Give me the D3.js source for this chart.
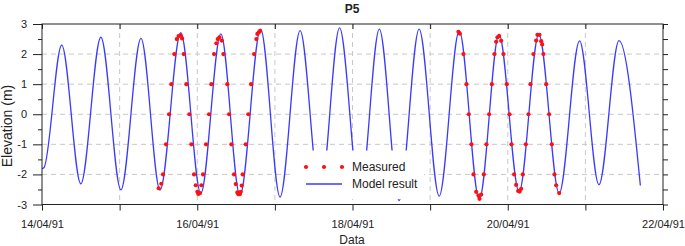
<!DOCTYPE html>
<html><head><meta charset="utf-8">
<script src="https://cdn.jsdelivr.net/npm/d3@7"></script>
<style>
html,body{margin:0;padding:0;background:#fff;}
svg{display:block;font-family:"Liberation Sans",Arial,sans-serif;}
</style></head>
<body>
<svg id="chart" width="685" height="246"></svg>
<script>
// ---------- data ----------
const chartTitle = "P5";
const xTitle = "Data";
const yTitle = "Elevation (m)";
const xTickDays = [0,1,2,3,4,5,6,7,8];            // days after 14/04/91
const xTickLabels = ["14/04/91","","16/04/91","","18/04/91","","20/04/91","","22/04/91"];
const yTickValues = [-3,-2,-1,0,1,2,3];
const yMinorValues = [-2.5,-1.5,-0.5,0.5,1.5,2.5];
const legendLabels = ["Measured","Model result"];

// model result: hours after 14/04/91 00:00, elevation (m) at turning points
const modelHours = [0,0.6,6.1,12.0,18.2,24.4,30.6,36.5,42.9,49.1,55.3,61.2,67.6,73.6,79.8,86.0,92.0,98.3,104.3,110.4,116.6,122.8,129.0,135.2,141.3,147.5,153.6,159.9,166.2,172.2,178.4,185.0];
const modelElev  = [-1.81,-1.78,2.30,-2.31,2.56,-2.51,2.52,-2.52,2.71,-2.63,2.67,-2.70,2.83,-2.75,2.78,-2.76,2.87,-2.78,2.83,-2.87,2.83,-2.72,2.77,-2.83,2.66,-2.58,2.66,-2.63,2.44,-2.34,2.45,-2.37];

// measured: hours after 14/04/91 00:00, elevation (m)
const measHours = [36.09,36.90,37.42,38.35,39.28,39.99,40.92,41.66,42.22,42.84,43.30,43.82,44.63,45.56,46.18,47.01,47.54,48.03,48.34,48.87,49.27,49.79,50.72,51.65,52.36,53.20,53.91,54.34,54.84,55.58,56.07,57.31,57.84,58.55,59.38,59.91,60.40,60.71,61.15,61.45,61.76,62.07,63.00,63.80,64.64,65.57,66.28,66.59,67.02,67.42,
  128.75,129.19,130.30,131.23,131.97,132.78,133.40,134.23,134.95,135.26,135.78,136.61,137.42,138.25,139.09,139.89,140.42,140.82,141.34,141.96,142.67,143.72,144.53,145.15,145.98,146.60,147.22,147.68,148.15,148.67,149.60,150.40,151.02,151.95,152.78,153.18,153.80,154.33,154.64,155.04,155.88,156.80,157.64,158.44,158.97,159.90];
const measElev  = [-2.46,-2.31,-2.0,-1.0,0,1.0,2.0,2.50,2.60,2.62,2.52,2.0,1.0,0,-1.0,-2.0,-2.36,-2.58,-2.65,-2.62,-2.36,-2.0,-1.0,0,1.0,2.0,2.36,2.50,2.56,2.45,2.0,1.0,0,-1.0,-2.0,-2.32,-2.60,-2.66,-2.66,-2.58,-2.37,-2.0,-1.0,0,1.0,2.0,2.50,2.67,2.72,2.77,
  2.74,2.68,2.0,1.0,0,-1.0,-2.0,-2.58,-2.70,-2.81,-2.67,-2.0,-1.0,0,1.0,2.0,2.41,2.56,2.60,2.44,2.0,1.0,0,-1.0,-2.0,-2.35,-2.55,-2.57,-2.48,-2.0,-1.0,0,1.0,2.0,2.45,2.64,2.64,2.43,2.32,2.0,1.0,0,-1.0,-2.0,-2.36,-2.62];

// ---------- layout ----------
const L = 42, R = 663, T = 24, B = 204.5;
const svg = d3.select("#chart");
const x = d3.scaleLinear().domain([0, 192]).range([L, R]);
const y = d3.scaleLinear().domain([-3, 3]).range([B, T]);

const lineColor = "#3a3aff";
const dotColor = "#ff1010";
const axisColor = "#222";

// grid
const g = svg.append("g");
g.selectAll(".hg").data(yTickValues.filter(v => v > -3 && v < 3)).join("line")
  .attr("x1", L).attr("x2", R).attr("y1", d => y(d)).attr("y2", d => y(d))
  .attr("stroke", "#c8c8c8").attr("stroke-width", 1).attr("stroke-dasharray", "5,4");
g.selectAll(".vg").data(xTickDays.filter(d => d > 0 && d < 8)).join("line")
  .attr("x1", d => x(d*24)).attr("x2", d => x(d*24)).attr("y1", T).attr("y2", B)
  .attr("stroke", "#c8c8c8").attr("stroke-width", 1).attr("stroke-dasharray", "5,4");

// model line
const model = modelHours.map((h, i) => ({h, v: modelElev[i]}));
svg.append("path").datum(model)
  .attr("fill", "none").attr("stroke", lineColor).attr("stroke-width", 1.3)
  .attr("d", d3.line().x(d => x(d.h)).y(d => y(d.v)).curve(d3.curveMonotoneX));

// measured dots
const meas = measHours.map((h, i) => ({h, v: measElev[i]}));
svg.append("g").selectAll("circle").data(meas).join("circle")
  .attr("cx", d => x(d.h)).attr("cy", d => y(d.v)).attr("r", 2.1)
  .attr("fill", dotColor);

// legend
const lg = svg.append("g");
lg.append("rect").attr("x", 294).attr("y", 150.5).attr("width", 130).attr("height", 48.5).attr("fill", "#fff");
[306, 324, 342].forEach(cx => lg.append("circle").attr("cx", cx).attr("cy", 167).attr("r", 2.1).attr("fill", dotColor));
lg.append("line").attr("x1", 306).attr("x2", 342).attr("y1", 184).attr("y2", 184).attr("stroke", lineColor).attr("stroke-width", 1.3);
lg.append("text").attr("x", 352).attr("y", 171.2).attr("font-size", 12).attr("fill", "#222").text(legendLabels[0]);
lg.append("text").attr("x", 352).attr("y", 188.2).attr("font-size", 12).attr("fill", "#222").text(legendLabels[1]);

// axes
function styleAxis(sel) {
  sel.select(".domain").remove();
  sel.selectAll("line").attr("stroke", axisColor);
  sel.selectAll("text").attr("fill", "#222").style("font-family", '"Liberation Sans",Arial,sans-serif');
}
const xTicks = xTickDays.map(d => d*24);
svg.append("g").attr("transform", `translate(0,${B})`)
  .call(d3.axisBottom(x).tickValues(xTicks).tickSize(6).tickPadding(10)
    .tickFormat((d, i) => xTickLabels[i]))
  .call(styleAxis).selectAll("text").attr("font-size", 11);
svg.append("g").attr("transform", `translate(0,${T})`)
  .call(d3.axisBottom(x).tickValues(xTicks).tickSize(5).tickFormat(""))
  .call(styleAxis);
svg.append("g").attr("transform", `translate(${L},0)`)
  .call(d3.axisLeft(y).tickValues(yTickValues).tickSize(9).tickPadding(6).tickFormat(d => String(d)))
  .call(styleAxis).selectAll("text").attr("font-size", 11);
svg.append("g").attr("transform", `translate(${L},0)`)
  .call(d3.axisLeft(y).tickValues(yMinorValues).tickSize(4).tickFormat(""))
  .call(styleAxis);
svg.append("g").attr("transform", `translate(${R},0)`)
  .call(d3.axisLeft(y).tickValues(yTickValues.concat(yMinorValues)).tickSize(-5).tickFormat(""))
  .call(styleAxis);

// frame
svg.append("rect").attr("x", L).attr("y", T).attr("width", R - L).attr("height", B - T)
  .attr("fill", "none").attr("stroke", axisColor).attr("stroke-width", 1);

// titles
svg.append("text").attr("x", 352).attr("y", 12.5).attr("text-anchor", "middle")
  .attr("font-size", 12).attr("font-weight", "bold").attr("fill", "#222").text(chartTitle);
svg.append("text").attr("x", 352).attr("y", 244).attr("text-anchor", "middle")
  .attr("font-size", 12).attr("fill", "#222").text(xTitle);
svg.append("text").attr("transform", "translate(12,126) rotate(-90)").attr("text-anchor", "middle")
  .attr("font-size", 14).attr("fill", "#222").text(yTitle);
</script>
</body></html>
